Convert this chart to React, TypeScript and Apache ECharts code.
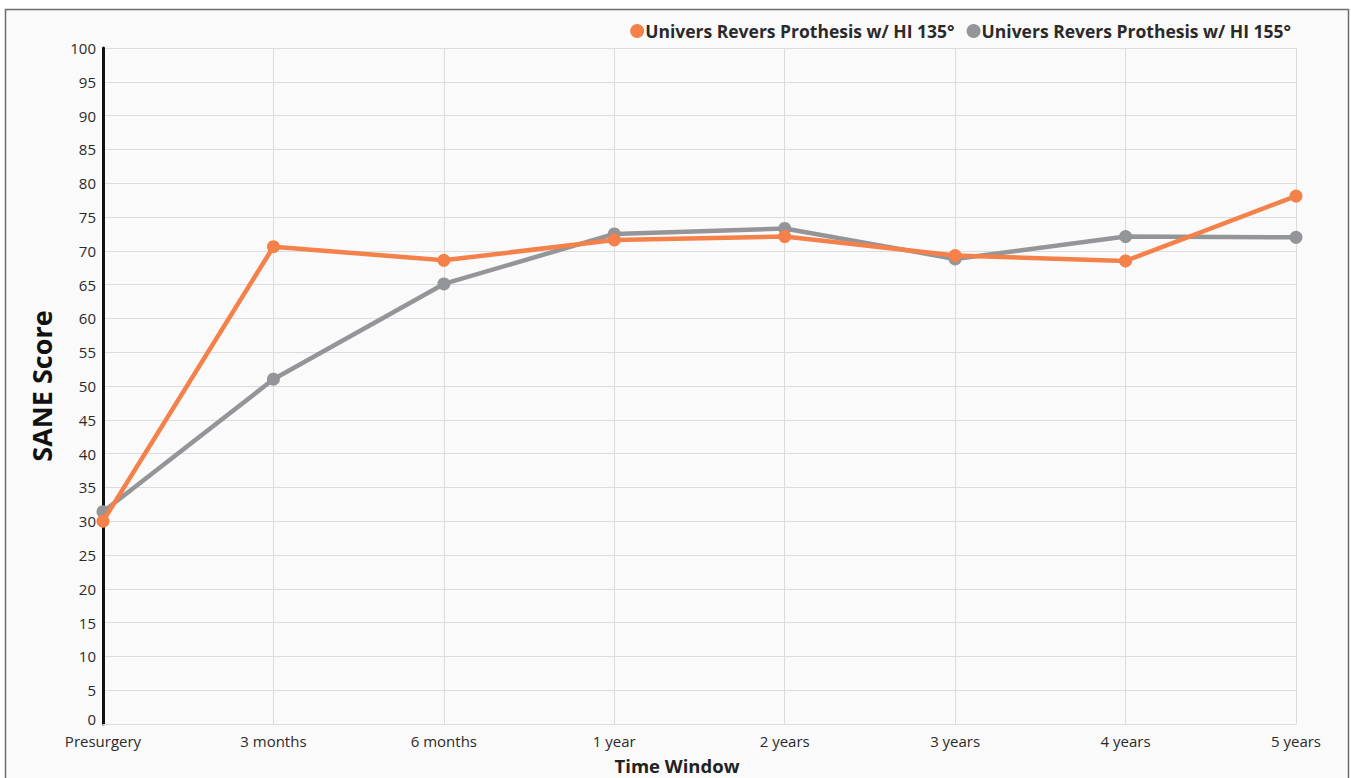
import React, { useEffect, useRef } from "react";
import * as echarts from "echarts";

const categories = ["Presurgery", "3 months", "6 months", "1 year", "2 years", "3 years", "4 years", "5 years"];
const series135 = [30.0, 70.6, 68.6, 71.6, 72.1, 69.3, 68.5, 78.1];
const series155 = [31.4, 51.0, 65.1, 72.5, 73.3, 68.8, 72.1, 72.0];
const seriesNames = ["Univers Revers Prothesis w/ HI 135°", "Univers Revers Prothesis w/ HI 155°"];
const colors = ["#f5814a", "#939598"];
const FONT = "'Open Sans', Lato, sans-serif";

export default function App() {
  const ref = useRef<HTMLDivElement>(null);
  useEffect(() => {
    if (!ref.current) return;
    const chart = echarts.init(ref.current, null, { renderer: "svg" });
    chart.setOption({
      animation: false,
      backgroundColor: "#ffffff",
      textStyle: { fontFamily: FONT },
      graphic: [
        {
          type: "rect",
          z: -10,
          silent: true,
          shape: { x: 5.5, y: 9.5, width: 1343, height: 800 },
          style: { fill: "#fafafa", stroke: "#6b6b6b", lineWidth: 1.5 },
        },
        {
          type: "text",
          x: 677,
          y: 765,
          style: {
            text: "Time Window",
            fontFamily: FONT,
            fontSize: 18.5,
            fontWeight: "bold",
            fill: "#222",
            textAlign: "center",
            textVerticalAlign: "middle",
          },
        },
      ],
      legend: {
        right: 55,
        top: 17,
        itemGap: 12,
        itemWidth: 14,
        itemHeight: 14,
        icon: "circle",
        textStyle: { fontFamily: FONT, fontSize: 17.5, fontWeight: "bold", color: "#2a2a2a", padding: [0, 0, 0, -4] },
        data: seriesNames,
      },
      grid: { left: 103, right: 55, top: 48, bottom: 54 },
      xAxis: {
        type: "category",
        data: categories,
        boundaryGap: false,
        axisLine: { show: true, lineStyle: { color: "#dcdcdc", width: 1 } },
        axisTick: { show: false },
        splitLine: { show: true, lineStyle: { color: "#dcdcdc", width: 1 } },
        axisLabel: { fontFamily: FONT, fontSize: 15, lineHeight: 16, color: "#2a2a2a", margin: 9 },
      },
      yAxis: {
        type: "value",
        min: 0,
        max: 100,
        interval: 5,
        name: "SANE Score",
        nameLocation: "middle",
        nameGap: 48,
        nameTextStyle: { fontFamily: FONT, fontSize: 27, fontWeight: "bold", color: "#111" },
        axisLine: { show: true, lineStyle: { color: "#111", width: 3 } },
        axisTick: { show: false },
        splitLine: { show: true, lineStyle: { color: "#dcdcdc", width: 1 } },
        axisLabel: {
          fontFamily: FONT,
          fontSize: 15,
          lineHeight: 16,
          color: "#2a2a2a",
          margin: 7,
          formatter: (v: number) => (v === 0 ? "{zero|0}" : String(v)),
          rich: { zero: { fontFamily: FONT, fontSize: 15, lineHeight: 16, color: "#2a2a2a", padding: [0, 0, 10, 0] } },
        },
      },
      series: [
        {
          name: seriesNames[1],
          type: "line",
          data: series155,
          color: colors[1],
          symbol: "circle",
          symbolSize: 13,
          lineStyle: { width: 4.5, color: colors[1] },
          itemStyle: { color: colors[1] },
          z: 2,
        },
        {
          name: seriesNames[0],
          type: "line",
          data: series135,
          color: colors[0],
          symbol: "circle",
          symbolSize: 13,
          lineStyle: { width: 4.5, color: colors[0] },
          itemStyle: { color: colors[0] },
          z: 3,
        },
      ],
    });
    return () => chart.dispose();
  }, []);
  return <div ref={ref} style={{ position: "fixed", left: 0, top: 0, width: 1351, height: 778 }} />;
}
